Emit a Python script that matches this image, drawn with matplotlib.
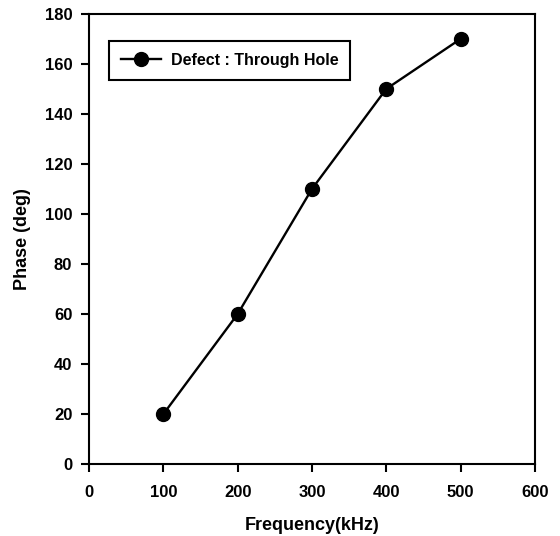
import matplotlib.pyplot as plt

# data
frequency = [100, 200, 300, 400, 500]
phase = [20, 60, 110, 150, 170]
series_label = 'Defect : Through Hole'

plt.rcParams['font.family'] = ['Liberation Sans', 'DejaVu Sans']
plt.rcParams['font.weight'] = 'bold'

fig = plt.figure(figsize=(5.6, 5.36), dpi=100)
ax = fig.add_axes([0.159, 0.134, 0.796, 0.840])

ax.plot(frequency, phase, color='black', linewidth=1.7,
        marker='o', markersize=10, label=series_label)

ax.set_xlim(0, 600)
ax.set_ylim(0, 180)
ax.set_xticks(range(0, 601, 100))
ax.set_yticks(range(0, 181, 20))
ax.tick_params(direction='out', length=6, width=1.5, labelsize=12, top=False, right=False)
ax.tick_params(axis='x', pad=9)
ax.tick_params(axis='y', pad=6)
for lab in ax.get_xticklabels() + ax.get_yticklabels():
    lab.set_fontweight('bold')
for sp in ax.spines.values():
    sp.set_linewidth(1.5)

ax.set_xlabel('Frequency(kHz)', fontsize=13, fontweight='bold', labelpad=12)
ax.set_ylabel('Phase (deg)', fontsize=13, fontweight='bold', labelpad=10)

leg = ax.legend(loc='upper left', bbox_to_anchor=(0.045, 0.94), borderaxespad=0,
                fancybox=False, edgecolor='black', framealpha=1,
                handlelength=2.5, handletextpad=0.6, borderpad=0.75,
                prop={'weight': 'bold', 'size': 11.5})
leg.get_frame().set_linewidth(1.5)

fig.savefig('out.png', dpi=100)
